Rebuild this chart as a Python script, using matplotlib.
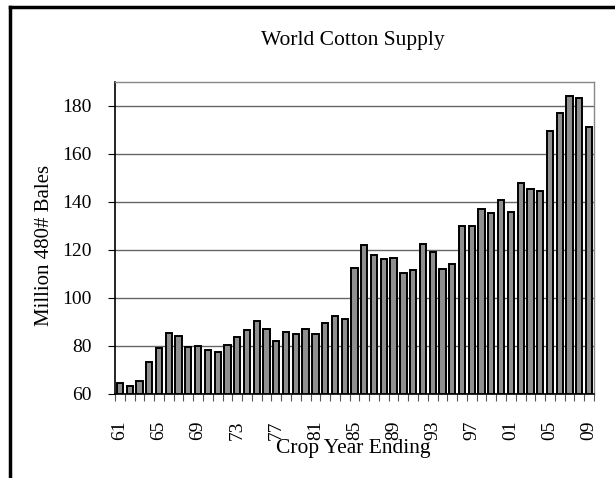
import matplotlib
matplotlib.use("Agg")
import matplotlib.pyplot as plt
from matplotlib.lines import Line2D
import numpy as np

plt.rcParams['font.family'] = ['Liberation Serif', 'DejaVu Serif']

years = [str(y % 100).zfill(2) for y in range(1961, 2010)]
supply = [64.7, 63.3, 65.6, 73.2, 79.3, 85.3, 84.3, 79.6, 80.0, 78.3,
          77.4, 80.4, 83.6, 86.7, 90.6, 87.0, 82.0, 86.0, 85.0, 87.1,
          84.8, 89.4, 92.4, 91.3, 112.5, 122.1, 117.8, 116.3, 116.5, 110.6,
          111.7, 122.5, 119.2, 112.2, 114.2, 129.9, 130.1, 137.0, 135.6, 140.8,
          135.7, 148.0, 145.5, 144.6, 169.4, 177.0, 184.0, 183.3, 171.1]
yticks = [60, 80, 100, 120, 140, 160, 180]

fig = plt.figure(figsize=(6.15, 4.78), dpi=100)
ax = fig.add_axes([115/615, 1-394/478, (594-115)/615, (394-82)/478])

x = np.arange(len(years))
ax.bar(x, [v - 60 for v in supply], bottom=60, width=0.64,
       color='#8f8f8f', edgecolor='black', linewidth=1.4, zorder=3)

ax.set_xlim(-0.5, len(years) - 0.5)
ax.set_ylim(60, 190)
ax.set_yticks(yticks)
ax.yaxis.grid(True, color='#666666', linewidth=1, zorder=0)
ax.tick_params(axis='y', labelsize=14, length=5, pad=12, direction='out')

# ticks at category boundaries, labels every 4 years
ax.set_xticks(np.arange(-0.5, len(years), 1.0))
ax.set_xticklabels([])
ax.tick_params(axis='x', which='major', length=5, color='#555555', direction='out')
lab_pos = x[::4]
ax.set_xticks(lab_pos, minor=True)
ax.set_xticklabels([years[i] for i in lab_pos], minor=True, rotation=90, fontsize=14)
ax.tick_params(axis='x', which='minor', length=0, pad=19)

for s in ['top', 'right']:
    ax.spines[s].set_color('#888888')
    ax.spines[s].set_linewidth(1)
for s in ['left', 'bottom']:
    ax.spines[s].set_color('black')
    ax.spines[s].set_linewidth(1.2)

fig.text(353/615, 1-40/478, 'World Cotton Supply', ha='center', va='center', fontsize=15.5)
fig.text(353/615, 1-448/478, 'Crop Year Ending', ha='center', va='center', fontsize=15.5)
fig.text(45/615, 1-245/478, 'Million 480# Bales', ha='center', va='center',
         rotation=90, fontsize=15)

# chart frame (only left and top visible)
fig.add_artist(Line2D([10/615, 10/615], [0, 1-7/478], color='black', linewidth=2.5,
                      transform=fig.transFigure))
fig.add_artist(Line2D([10/615, 1], [1-7/478, 1-7/478], color='black', linewidth=2.5,
                      transform=fig.transFigure))

fig.savefig('out.png', dpi=100)
